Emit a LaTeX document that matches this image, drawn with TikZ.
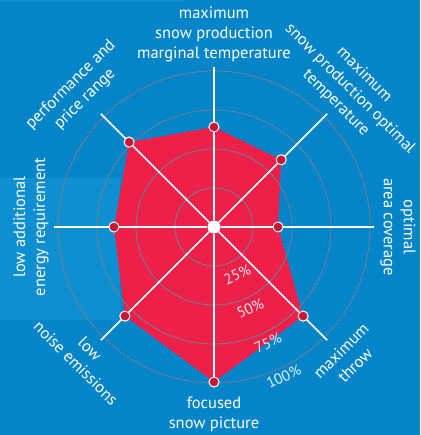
\documentclass[tikz,border=0pt]{standalone}
\usepackage{fontspec}
\setmainfont{PT Sans}
\usepackage{xcolor}
\definecolor{chartblue}{RGB}{4,133,202}
\definecolor{bandblue}{RGB}{14,143,209}
\definecolor{areared}{RGB}{236,32,72}
\definecolor{dotred}{RGB}{200,24,52}
\definecolor{ringgray}{RGB}{118,126,140}

\begin{document}
\begin{tikzpicture}[x=1pt, y=1pt,
    ring/.style={ringgray, line width=0.8pt},
    spoke/.style={white, line width=1.5pt},
    value/.style={circle, fill=dotred, draw=white, line width=0.9pt, inner sep=0pt, minimum size=10pt},
    axislabel/.style={white, font=\fontsize{16.5}{20}\selectfont, align=center, inner sep=1pt},
    pct/.style={white, opacity=0.9, font=\fontsize{15}{17}\selectfont, rotate=25, inner sep=1pt}]
    % Background panel
    \fill[chartblue] (-214,-208) rectangle (206,227);
    \fill[bandblue] (-214,-93) rectangle (-94,49);
    \fill[bandblue] (-214,225) rectangle (-30,227);
    \useasboundingbox (-214,-208) rectangle (206,227);

    % Hub and spoke ends
    \coordinate (hubpt) at (0,0);
    \coordinate (endMarg) at (90:160);
    \coordinate (endOptim) at (45:160);
    \coordinate (endCover) at (0:160);
    \coordinate (endThrow) at (-45:160);
    \coordinate (endFocus) at (-90:160);
    \coordinate (endNoise) at (-135:160);
    \coordinate (endEnergy) at (180:160);
    \coordinate (endPrice) at (135:160);

    % Values
    \node[value] (vMarg) at (90:100) {};
    \node[value] (vOptim) at (45:95) {};
    \node[value] (vCover) at (0:64) {};
    \node[value] (vThrow) at (-45:126) {};
    \node[value] (vFocus) at (-90:155) {};
    \node[value] (vNoise) at (-135:126) {};
    \node[value] (vEnergy) at (180:100) {};
    \node[value] (vPrice) at (135:120) {};

    % Filled area
    \fill[areared] (vMarg.center) -- (vOptim.center) -- (vCover.center) -- (vThrow.center)
        -- (vFocus.center) -- (vNoise.center) -- (vEnergy.center) -- (vPrice.center) -- cycle;

    % Rings
    \draw[ring] (hubpt) circle (39);
    \draw[ring] (hubpt) circle (78);
    \draw[ring] (hubpt) circle (117);
    \draw[ring] (hubpt) circle (156);

    % Spokes
    \node[circle, fill=white, inner sep=0pt, minimum size=13pt] (hub) at (hubpt) {};
    \draw[spoke] (hub) -- (endMarg);
    \draw[spoke] (hub) -- (endOptim);
    \draw[spoke] (hub) -- (endCover);
    \draw[spoke] (hub) -- (endThrow);
    \draw[spoke] (hub) -- (endFocus);
    \draw[spoke] (hub) -- (endNoise);
    \draw[spoke] (hub) -- (endEnergy);
    \draw[spoke] (hub) -- (endPrice);

    % Dots on top
    \node[value] at (vMarg) {};
    \node[value] at (vOptim) {};
    \node[value] at (vCover) {};
    \node[value] at (vThrow) {};
    \node[value] at (vFocus) {};
    \node[value] at (vNoise) {};
    \node[value] at (vEnergy) {};
    \node[value] at (vPrice) {};

    % Scale labels
    \node[pct] (p25) at (-64:53) {25\%};
    \node[pct] (p50) at (-66:89) {50\%};
    \node[pct] (p75) at (-65:128) {75\%};
    \node[pct] (p100) at (-65:165) {100\%};

    % Axis labels
    \node[axislabel] (lblMarg) at (0,193) {maximum\\snow production\\marginal temperature};
    \node[axislabel, rotate=-45] (lblOptim) at (136,138) {maximum\\snow production optimal\\temperature};
    \node[axislabel, rotate=-90] (lblCover) at (184,0) {optimal\\area coverage};
    \node[axislabel, rotate=45] (lblThrow) at (134,-131) {maximum\\throw};
    \node[axislabel] (lblFocus) at (0,-187) {focused\\snow picture};
    \node[axislabel, rotate=-45] (lblNoise) at (-131,-129) {low\\noise emissions};
    \node[axislabel, rotate=90] (lblEnergy) at (-183,0) {low additional\\energy requirement};
    \node[axislabel, rotate=45] (lblPrice) at (-136,135) {performance and\\price range};
\end{tikzpicture}
\end{document}
